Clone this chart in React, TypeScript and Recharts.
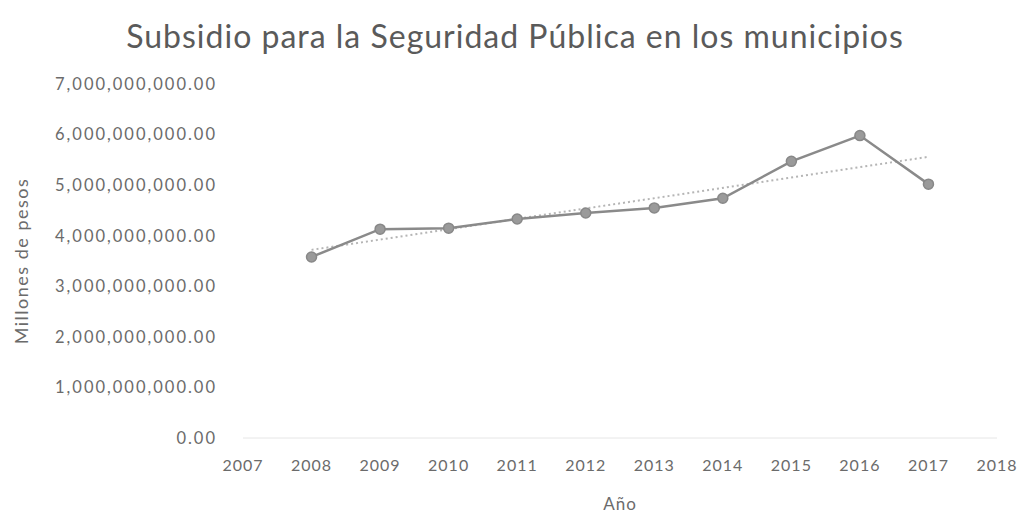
import React from "react";
import {
  LineChart,
  Line,
  XAxis,
  YAxis,
} from "recharts";

const years = [2008, 2009, 2010, 2011, 2012, 2013, 2014, 2015, 2016, 2017];
const subsidio = [
  3.58e9, 4.13e9, 4.15e9, 4.33e9, 4.45e9, 4.55e9, 4.74e9, 5.47e9, 5.98e9, 5.02e9,
];
// linear trend line, ends
const trendYears = [2008, 2017];
const trendValues = [3.72e9, 5.56e9];

const xTicks = [2007, 2008, 2009, 2010, 2011, 2012, 2013, 2014, 2015, 2016, 2017, 2018];
const yTicks = [0, 1e9, 2e9, 3e9, 4e9, 5e9, 6e9, 7e9];

const FONT = "Lato, 'Open Sans', sans-serif";
const GRAY = "#6b6b6b";

function formatMoney(v: number) {
  return v.toLocaleString("en-US", {
    minimumFractionDigits: 2,
    maximumFractionDigits: 2,
  });
}

export default function App() {
  const data = years.map((year, i) => {
    const t = trendYears.indexOf(year);
    return {
      year,
      subsidio: subsidio[i],
      trend: t >= 0 ? trendValues[t] : null,
    };
  });

  return (
    <div style={{ position: "relative", width: 1018, height: 513, fontFamily: FONT }}>
      <div
        style={{
          position: "absolute",
          top: 8,
          left: -6,
          width: 1026,
          textAlign: "center",
          fontSize: 32,
          color: "#5a5a5a",
          letterSpacing: 1,
        }}
      >
        Subsidio para la Seguridad Pública en los municipios
      </div>
      <LineChart
        width={1018}
        height={513}
        data={data}
        margin={{ top: 76, right: 29, bottom: 53, left: 0 }}
      >
        <XAxis
          dataKey="year"
          type="number"
          domain={[2007, 2018]}
          ticks={xTicks}
          interval={0}
          height={30}
          tickLine={false}
          tickSize={0}
          tickMargin={22}
          axisLine={{ stroke: "#e6e6e6" }}
          tick={{ fill: GRAY, fontSize: 16, fontFamily: FONT, letterSpacing: 1 }}
          label={{
            value: "Año",
            position: "bottom",
            offset: 30,
            fill: GRAY,
            fontSize: 17,
            fontFamily: FONT,
            letterSpacing: 1,
          }}
        />
        <YAxis
          width={235}
          domain={[0, 7e9]}
          ticks={yTicks}
          interval={0}
          tickLine={false}
          tickSize={0}
          tickMargin={26}
          axisLine={false}
          tickFormatter={formatMoney}
          tick={{ fill: GRAY, fontSize: 16.5, fontFamily: FONT, letterSpacing: 2 }}
          label={{
            value: "Millones de pesos",
            angle: -90,
            position: "insideLeft",
            offset: 14,
            fill: GRAY,
            fontSize: 18,
            fontFamily: FONT,
            letterSpacing: 1.5,
            style: { textAnchor: "middle" },
          }}
        />
        <Line
          dataKey="trend"
          stroke="#b5b5b5"
          strokeWidth={2}
          strokeDasharray="2 3"
          dot={false}
          connectNulls
          isAnimationActive={false}
        />
        <Line
          dataKey="subsidio"
          stroke="#8a8a8a"
          strokeWidth={2.5}
          dot={{ r: 5, fill: "#9a9a9a", stroke: "#888", strokeWidth: 1.5 }}
          isAnimationActive={false}
        />
      </LineChart>
    </div>
  );
}
